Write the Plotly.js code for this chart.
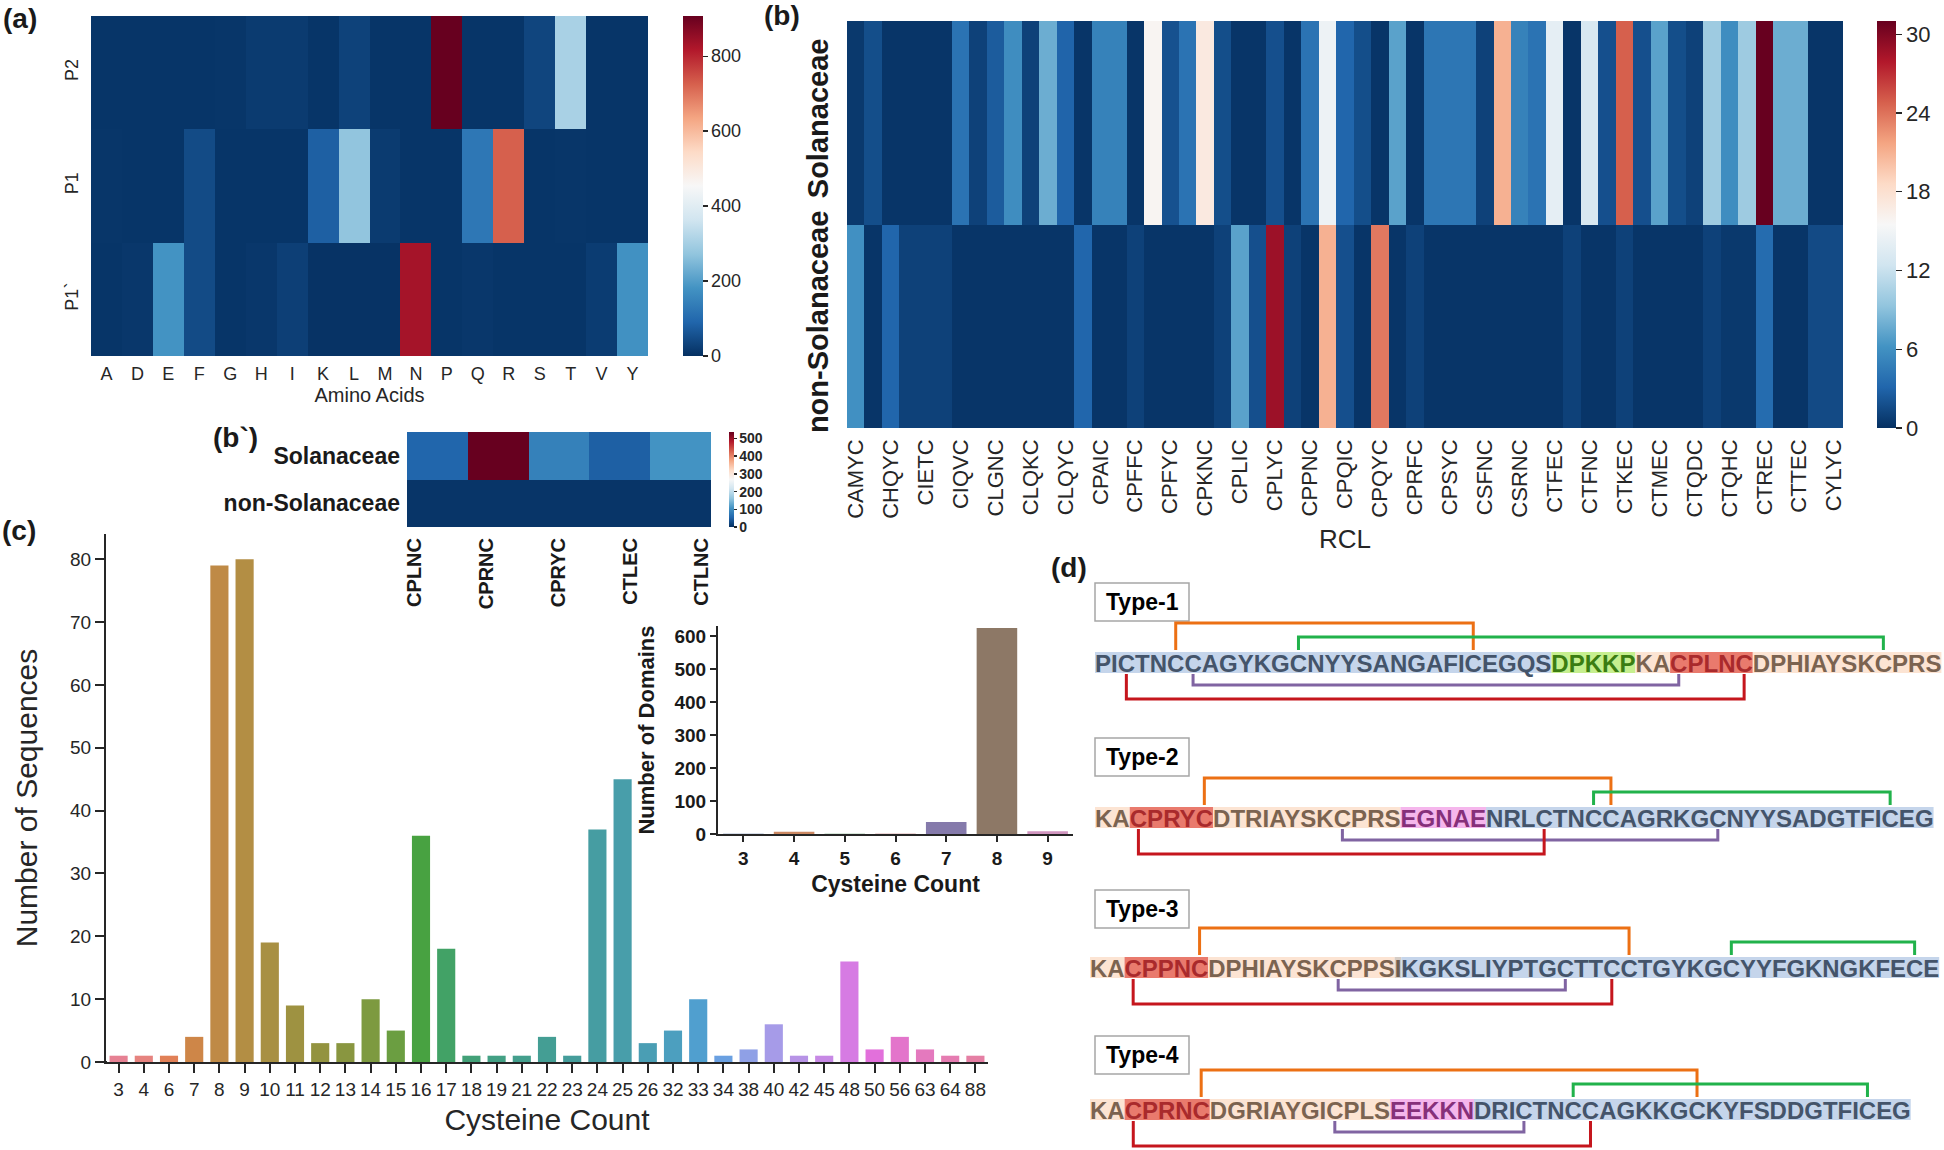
<!DOCTYPE html>
<html><head><meta charset="utf-8">
<script src="https://cdn.plot.ly/plotly-3.0.1.min.js"></script>
<style>html,body{margin:0;padding:0;background:#fff}#chart{width:1944px;height:1150px}</style>
</head><body><div id="chart"></div>
<script>
// ================= DATA =================
// (a) amino acid frequencies at cleavage positions
const aminoAcids = ['A','D','E','F','G','H','I','K','L','M','N','P','Q','R','S','T','V','Y'];
const cleavagePositions = ['P2','P1','P1`'];
const p2Counts      = [8, 8, 8, 8, 10, 18, 18, 8, 30, 8, 8, 907, 8, 8, 35, 305, 8, 8];
const p1Counts      = [10, 8, 8, 45, 8, 8, 8, 80, 272, 18, 8, 8, 125, 725, 8, 10, 8, 8];
const p1primeCounts = [8, 12, 181, 45, 8, 12, 25, 5, 5, 5, 832, 8, 12, 8, 8, 8, 20, 177];

// (b) RCL motif counts (tick labels shown on every other column)
const rclLabels = ['CAMYC','CHQYC','CIETC','CIQVC','CLGNC','CLQKC','CLQYC','CPAIC','CPFFC','CPFYC',
  'CPKNC','CPLIC','CPLYC','CPPNC','CPQIC','CPQYC','CPRFC','CPSYC','CSFNC','CSRNC','CTFEC','CTFNC',
  'CTKEC','CTMEC','CTQDC','CTQHC','CTREC','CTTEC','CYLYC'];
const familyRows = ['Solanaceae','non-Solanaceae'];
const rclSolanaceae = [0.5,1.7,0.3,0.3,0.3,0.3,4.0,1.0,2.5,5.8,1.0,7.8,3.0,0.3,5.0,5.0,0.3,15.8,1.9,4.0,
  17.0,1.7,0.3,0.3,1.8,0.3,4.0,14.7,3.1,1.7,0.3,7.1,0.3,4.2,4.2,4.2,1.0,21.0,5.0,4.0,
  14.0,0.3,13.0,1.8,24.8,1.8,7.1,1.7,1.0,9.9,5.8,9.9,31.0,7.8,7.8,0.3,0.3];
const rclNonSolanaceae = [6.0,0.3,3.1,1.0,1.0,1.0,0.3,0.3,0.3,0.3,0.3,0.3,0.3,3.1,0.3,0.3,1.0,0.3,0.3,0.3,
  0.3,1.0,7.1,1.8,28.8,1.0,0.3,21.0,1.8,0.3,23.7,0.3,1.0,0.3,0.3,0.3,0.3,0.3,0.3,0.3,
  0.3,1.0,0.3,0.3,1.0,0.3,0.3,0.3,0.3,1.0,0.5,0.5,3.5,0.3,0.3,1.5,1.5];

// (b`) top RCL motifs
const topRclMotifs = ['CPLNC','CPRNC','CPRYC','CTLEC','CTLNC'];
const topRclSolanaceae = [54, 537, 86, 48, 107];
const topRclNonSolanaceae = [5, 5, 5, 5, 5];

// (c) cysteine count distribution
const cysteineCounts = ['3','4','6','7','8','9','10','11','12','13','14','15','16','17','18','19','21','22',
  '23','24','25','26','32','33','34','38','40','42','45','48','50','56','63','64','88'];
const sequenceCounts = [1,1,1,4,79,80,19,9,3,3,10,5,36,18,1,1,1,4,1,37,45,3,5,10,1,2,6,1,1,16,2,4,2,1,1];
const domainCysteineCounts = ['3','4','5','6','7','8','9'];
const domainCounts = [1, 7, 1, 1, 36, 624, 8];

// (d) domain types: segments [text, kind]
const typeNames = ['Type-1','Type-2','Type-3','Type-4'];
const typeSegments = [
  [['PICTNCCAGYKGCNYYSANGAFICEGQS','blue'],['DPKKP','green'],['KA','peach'],['CPLNC','red'],['DPHIAYSKCPRS','peach']],
  [['KA','peach'],['CPRYC','red'],['DTRIAYSKCPRS','peach'],['EGNAE','pink'],['NRLCTNCCAGRKGCNYYSADGTFICEG','blue']],
  [['KA','peach'],['CPPNC','red'],['DPHIAYSKCPPS','peach'],['I','gray'],['KGKSLIYPTGCTTCCTGYKGCYYFGKNGKFECE','blue']],
  [['KA','peach'],['CPRNC','red'],['DGRIAYGICPLS','peach'],['EEKKN','pink'],['DRICTNCCAGKKGCKYFSDDGTFICEG','blue']]
];
// disulfide bonds (residue indices), order: orange, green, purple, red
const typeBonds = [
  [[5,23],[12,48],[6,35],[2,39]],
  [[6,31],[30,48],[15,37],[2,27]],
  [[6,34],[40,51],[15,30],[2,33]],
  [[6,37],[30,48],[15,27],[2,31]]
];

// ================= STYLE / LAYOUT HELPERS =================
const W = 1944, H = 1150;
const PX = v => v / W, PY = v => 1 - v / H;
const FONT = '"Liberation Sans", Arial, sans-serif';
const TXT = '#262626';
const rdbuR = [[0,'#053061'],[0.1,'#2166ac'],[0.2,'#4393c3'],[0.3,'#92c5de'],[0.4,'#d1e5f0'],[0.5,'#f7f7f7'],
  [0.6,'#fddbc7'],[0.7,'#f4a582'],[0.8,'#d6604d'],[0.9,'#b2182b'],[1,'#67001f']];

// --- seaborn-like palettes ---
function huslToRgb(h, s, l) {
  const m = [[3.2406,-1.5372,-0.4986],[-0.9689,1.8758,0.0415],[0.0557,-0.2040,1.0570]];
  const refU = 0.19784, refV = 0.46834, kappa = 903.2962962962963, eps = 0.0088564516790356;
  function maxChroma(L, Hh) {
    const hr = Hh / 360 * 2 * Math.PI, sinH = Math.sin(hr), cosH = Math.cos(hr);
    const sub1 = Math.pow(L + 16, 3) / 1560896;
    const sub2 = sub1 > eps ? sub1 : L / kappa;
    let res = Infinity;
    for (const [m1, m2, m3] of m) {
      const top = (0.99915 * m1 + 1.05122 * m2 + 1.14460 * m3) * sub2;
      const rb = 0.86330 * m3 - 0.17266 * m2;
      const lb = 0.12949 * m3 - 0.38848 * m1;
      const bottom = (rb * sinH + lb * cosH) * sub2;
      for (const t of [0, 1]) {
        const C = L * (top - 1.05122 * t) / (bottom + 0.17266 * sinH * t);
        if (C > 0 && C < res) res = C;
      }
    }
    return res;
  }
  const L = l;
  const C = maxChroma(L, h) / 100 * s;
  const hr = h / 360 * 2 * Math.PI;
  const U = C * Math.cos(hr), V = C * Math.sin(hr);
  const fInv = t => (Math.pow(t, 3) > eps ? Math.pow(t, 3) : (116 * t - 16) / kappa);
  const Y = fInv((L + 16) / 116);
  const vU = U / (13 * L) + refU, vV = V / (13 * L) + refV;
  const X = 0 - (9 * Y * vU) / ((vU - 4) * vV - vU * vV);
  const Z = (9 * Y - 15 * vV * Y - vV * X) / (3 * vV);
  const fl = c => c <= 0.0031308 ? 12.92 * c : 1.055 * Math.pow(c, 1 / 2.4) - 0.055;
  return m.map(r => Math.min(1, Math.max(0, fl(r[0] * X + r[1] * Y + r[2] * Z))));
}
function rgbToHls(r, g, b) {
  const mx = Math.max(r, g, b), mn = Math.min(r, g, b), l = (mx + mn) / 2;
  if (mx === mn) return [0, l, 0];
  const rg = mx - mn;
  const s = l <= 0.5 ? rg / (mx + mn) : rg / (2 - mx - mn);
  const rc = (mx - r) / rg, gc = (mx - g) / rg, bc = (mx - b) / rg;
  let h = r === mx ? bc - gc : (g === mx ? 2 + rc - bc : 4 + gc - rc);
  h = ((h / 6) % 1 + 1) % 1;
  return [h, l, s];
}
function hlsToRgb(h, l, s) {
  if (s === 0) return [l, l, l];
  const m2 = l <= 0.5 ? l * (1 + s) : l + s - l * s, m1 = 2 * l - m2;
  const v = hue => { hue = ((hue % 1) + 1) % 1;
    if (hue < 1/6) return m1 + (m2 - m1) * hue * 6;
    if (hue < 0.5) return m2;
    if (hue < 2/3) return m1 + (m2 - m1) * (2/3 - hue) * 6;
    return m1; };
  return [v(h + 1/3), v(h), v(h - 1/3)];
}
function desat(rgb, p) { const [h, l, s] = rgbToHls(...rgb); return hlsToRgb(h, l, s * p); }
const toCss = c => 'rgb(' + c.map(v => Math.round(v * 255)).join(',') + ')';
const hexRgb = hx => [1,3,5].map(i => parseInt(hx.slice(i, i + 2), 16) / 255);
function huslPalette(n) {
  const out = [];
  for (let i = 0; i < n; i++) {
    const hue = ((i / n + 0.01) % 1) * 359;
    out.push(toCss(desat(huslToRgb(hue, 0.9 * 99, 0.65 * 99), 0.75)));
  }
  return out;
}
const deep = ['#4C72B0','#DD8452','#55A868','#C44E52','#8172B3','#937860','#DA8BC3'];
const deepDesat = deep.map(h => toCss(desat(hexRgb(h), 0.75)));

// ================= TRACES =================
const rclIdx = rclSolanaceae.map((_, i) => i);
const topIdx = topRclMotifs.map((_, i) => i);
const traces = [
  { type: 'heatmap', x: aminoAcids, y: cleavagePositions, z: [p2Counts, p1Counts, p1primeCounts],
    xaxis: 'x', yaxis: 'y', colorscale: rdbuR, zmin: 0, zmax: 907, hoverinfo: 'skip',
    colorbar: { x: PX(683), xanchor: 'left', xpad: 0, ypad: 0, thickness: 20, len: 340 / H, y: PY(186), yanchor: 'middle',
      outlinewidth: 0, ticks: 'outside', ticklen: 5, tickwidth: 1.2, tickcolor: TXT,
      tickvals: [0, 200, 400, 600, 800], tickfont: { family: FONT, size: 18, color: TXT } } },
  { type: 'heatmap', x: rclIdx, y: familyRows, z: [rclSolanaceae, rclNonSolanaceae],
    xaxis: 'x2', yaxis: 'y2', colorscale: rdbuR, zmin: 0, zmax: 31, hoverinfo: 'skip',
    colorbar: { x: PX(1877), xanchor: 'left', xpad: 0, ypad: 0, thickness: 19, len: 407 / H, y: PY(224.5), yanchor: 'middle',
      outlinewidth: 0, ticks: 'outside', ticklen: 6, tickwidth: 1.2, tickcolor: TXT,
      tickvals: [0, 6, 12, 18, 24, 30], tickfont: { family: FONT, size: 22, color: TXT } } },
  { type: 'heatmap', x: topIdx, y: familyRows, z: [topRclSolanaceae, topRclNonSolanaceae],
    xaxis: 'x3', yaxis: 'y3', colorscale: rdbuR, zmin: 0, zmax: 537, hoverinfo: 'skip',
    colorbar: { x: PX(729), xanchor: 'left', xpad: 0, ypad: 0, thickness: 5, len: 95 / H, y: PY(479.5), yanchor: 'middle',
      outlinewidth: 0, ticks: 'outside', ticklen: 3, tickwidth: 1.5, tickcolor: TXT,
      tickvals: [0, 100, 200, 300, 400, 500], tickfont: { family: FONT, size: 14, color: TXT, weight: 'bold' } } },
  { type: 'bar', x: cysteineCounts, y: sequenceCounts, xaxis: 'x4', yaxis: 'y4', width: 0.72,
    marker: { color: huslPalette(cysteineCounts.length), line: { width: 0 } }, hoverinfo: 'skip' },
  { type: 'bar', x: domainCysteineCounts, y: domainCounts, xaxis: 'x5', yaxis: 'y5', width: 0.8,
    marker: { color: deepDesat, line: { width: 0 } }, hoverinfo: 'skip' }
];

// ================= AXES =================
const noGrid = { showgrid: false, zeroline: false, showline: false, ticks: '' };
const layout = {
  width: W, height: H, margin: { l: 0, r: 0, t: 0, b: 0 }, showlegend: false,
  paper_bgcolor: '#ffffff', plot_bgcolor: 'rgba(0,0,0,0)',
  font: { family: FONT, color: TXT },
  xaxis: Object.assign({}, noGrid, { domain: [PX(91), PX(648)], anchor: 'y', type: 'category',
    tickfont: { size: 18 }, ticklabelstandoff: 5, title: { text: 'Amino Acids', font: { size: 20 }, standoff: 3 } }),
  yaxis: Object.assign({}, noGrid, { domain: [PY(356), PY(16)], anchor: 'x', type: 'category', autorange: 'reversed',
    tickangle: -90, tickfont: { size: 18 }, ticklabelstandoff: 8 }),
  xaxis2: Object.assign({}, noGrid, { domain: [PX(847), PX(1843)], anchor: 'y2', range: [-0.5, rclIdx.length - 0.5],
    tickmode: 'array', tickvals: rclLabels.map((_, i) => 2 * i), ticktext: rclLabels, tickangle: -90,
    tickfont: { size: 22 }, ticklabelstandoff: 6, title: { text: 'RCL', font: { size: 26 }, standoff: 11 } }),
  yaxis2: Object.assign({}, noGrid, { domain: [PY(428), PY(21)], anchor: 'x2', type: 'category', autorange: 'reversed',
    tickangle: -90, tickfont: { size: 29, weight: 'bold', color: '#1a1a1a' }, ticklabelstandoff: 12 }),
  // tick labels of (b`) are spread slightly wider than the cells, as in the original figure
  xaxis3: Object.assign({}, noGrid, { domain: [PX(407), PX(711)], anchor: 'y3', range: [-0.5, topIdx.length - 0.5],
    tickmode: 'array', tickvals: topIdx.map(i => -0.37 + 1.18 * i), ticktext: topRclMotifs, tickangle: -90,
    tickfont: { size: 20, weight: 'bold', color: '#1a1a1a' }, ticklabelstandoff: 6 }),
  yaxis3: Object.assign({}, noGrid, { domain: [PY(527), PY(432)], anchor: 'x3', type: 'category', autorange: 'reversed',
    tickfont: { size: 23, weight: 'bold', color: '#1a1a1a' }, ticklabelstandoff: 6 }),
  xaxis4: { domain: [PX(106), PX(988)], anchor: 'y4', type: 'category', showgrid: false, zeroline: false,
    showline: true, linecolor: TXT, linewidth: 2, ticks: 'outside', ticklen: 9, tickwidth: 2, tickcolor: TXT,
    tickangle: 0, tickfont: { size: 19 }, title: { text: 'Cysteine Count', font: { size: 30 }, standoff: 10 } },
  yaxis4: { domain: [PY(1062), PY(534)], anchor: 'x4', range: [0, 84], showgrid: false, zeroline: false,
    showline: true, linecolor: TXT, linewidth: 2, ticks: 'outside', ticklen: 9, tickwidth: 2, tickcolor: TXT,
    tickvals: [0,10,20,30,40,50,60,70,80], tickfont: { size: 19 },
    title: { text: 'Number of Sequences', font: { size: 30 }, standoff: 24 } },
  xaxis5: { domain: [PX(718), PX(1073)], anchor: 'y5', type: 'category', showgrid: false, zeroline: false,
    showline: true, linecolor: TXT, linewidth: 2, ticks: 'outside', ticklen: 6, tickwidth: 2, tickcolor: TXT,
    tickangle: 0, tickfont: { size: 19, weight: 'bold', color: '#1a1a1a' },
    title: { text: 'Cysteine Count', font: { size: 23, weight: 'bold', color: '#1a1a1a' }, standoff: 8 } },
  yaxis5: { domain: [PY(834), PY(626)], anchor: 'x5', range: [0, 630], showgrid: false, zeroline: false,
    showline: true, linecolor: TXT, linewidth: 2, ticks: 'outside', ticklen: 6, tickwidth: 2, tickcolor: TXT,
    tickvals: [0,100,200,300,400,500,600], tickfont: { size: 19, weight: 'bold', color: '#1a1a1a' },
    title: { text: 'Number of Domains', font: { size: 22, weight: 'bold', color: '#1a1a1a' }, standoff: 14 } },
  annotations: [], shapes: []
};

// x-axis spine of (c) reaches slightly left of the y spine, as in the original
layout.shapes.push({ type: 'line', xref: 'paper', yref: 'paper', x0: PX(96), x1: PX(107), y0: PY(1062), y1: PY(1062),
  line: { color: TXT, width: 2 } });

// ================= PANEL LETTERS =================
const letters = [['(a)', 3, 18], ['(b)', 764, 16], ['(b`)', 213, 438], ['(c)', 2, 530], ['(d)', 1051, 567]];
letters.forEach(([t, x, y]) => layout.annotations.push({ text: t, xref: 'paper', yref: 'paper', x: PX(x), y: PY(y),
  xanchor: 'left', yanchor: 'middle', showarrow: false, borderpad: 0, borderwidth: 0,
  font: { family: FONT, size: 28, weight: 'bold', color: '#1a1a1a' } }));

// ================= PANEL (d) =================
const segStyle = {
  blue:  { bg: '#c5d5eb', fg: '#44546a' },
  green: { bg: '#c6ef8f', fg: '#3b7d12' },
  peach: { bg: '#fce4d3', fg: '#7b6350' },
  red:   { bg: '#e97a6d', fg: '#a92a2c' },
  pink:  { bg: '#f5b6ec', fg: '#86307a' },
  gray:  { bg: '#d5ccc5', fg: '#6e5d50' }
};
const bondColors = ['#ec7014', '#21b24b', '#8064a2', '#c5161d'];
const bondSide = [[-1, 29], [-1, 15], [1, 12], [1, 26]];   // side (-1 above / +1 below), offset px
const typeBoxTop = [583, 738, 890, 1036];
const bandTop = [652, 807, 957, 1099];
const seqStart = [1095, 1095, 1090, 1090];
const seqTarget = [847, 839, 850, 821];
const BAND_H = 21;
const cv = document.createElement('canvas').getContext('2d');
const measure = (s, fs) => { cv.font = 'bold ' + fs + 'px "Liberation Sans"'; return cv.measureText(s).width; };

typeNames.forEach((name, k) => {
  // type label box
  layout.shapes.push({ type: 'rect', xref: 'paper', yref: 'paper', x0: PX(1095), x1: PX(1189),
    y0: PY(typeBoxTop[k]), y1: PY(typeBoxTop[k] + 38), fillcolor: '#ffffff', line: { color: '#a6a6a6', width: 1.5 } });
  layout.annotations.push({ text: name, xref: 'paper', yref: 'paper', x: PX(1142), y: PY(typeBoxTop[k] + 19),
    xanchor: 'center', yanchor: 'middle', showarrow: false,
    font: { family: FONT, size: 23, weight: 'bold', color: '#000000' } });

  const segs = typeSegments[k];
  const full = segs.map(s => s[0]).join('');
  const fs = 24 * seqTarget[k] / measure(full, 24);
  const x0 = seqStart[k], yT = bandTop[k], yB = bandTop[k] + BAND_H;
  let prefix = '';
  segs.forEach(([t, kind]) => {
    const a = x0 + measure(prefix, fs), b = x0 + measure(prefix + t, fs);
    layout.shapes.push({ type: 'rect', layer: 'below', xref: 'paper', yref: 'paper', x0: PX(a), x1: PX(b),
      y0: PY(yB), y1: PY(yT), fillcolor: segStyle[kind].bg, line: { width: 0 } });
    prefix += t;
  });
  layout.annotations.push({ xref: 'paper', yref: 'paper', x: PX(x0), y: PY(yT + BAND_H / 2 + 0.5),
    xanchor: 'left', yanchor: 'middle', showarrow: false, borderpad: 0, borderwidth: 0,
    font: { family: FONT, size: fs, color: '#44546a', weight: 'bold' },
    text: segs.map(([t, kind]) => '<span style="color:' + segStyle[kind].fg + '">' + t + '</span>').join('') });

  const cx = i => x0 + (measure(full.slice(0, i), fs) + measure(full.slice(0, i + 1), fs)) / 2;
  typeBonds[k].forEach(([i, j], n) => {
    const [side, off] = bondSide[n];
    const base = side < 0 ? yT - 2 : yB + 1;
    const lvl = side < 0 ? yT - off : yB + off;
    const xi = PX(cx(i)), xj = PX(cx(j));
    layout.shapes.push({ type: 'path', xref: 'paper', yref: 'paper',
      path: `M ${xi} ${PY(base)} L ${xi} ${PY(lvl)} L ${xj} ${PY(lvl)} L ${xj} ${PY(base)}`,
      line: { color: bondColors[n], width: 3 } });
  });
});

Plotly.newPlot('chart', traces, layout, { staticPlot: true, displayModeBar: false });
</script></body></html>
